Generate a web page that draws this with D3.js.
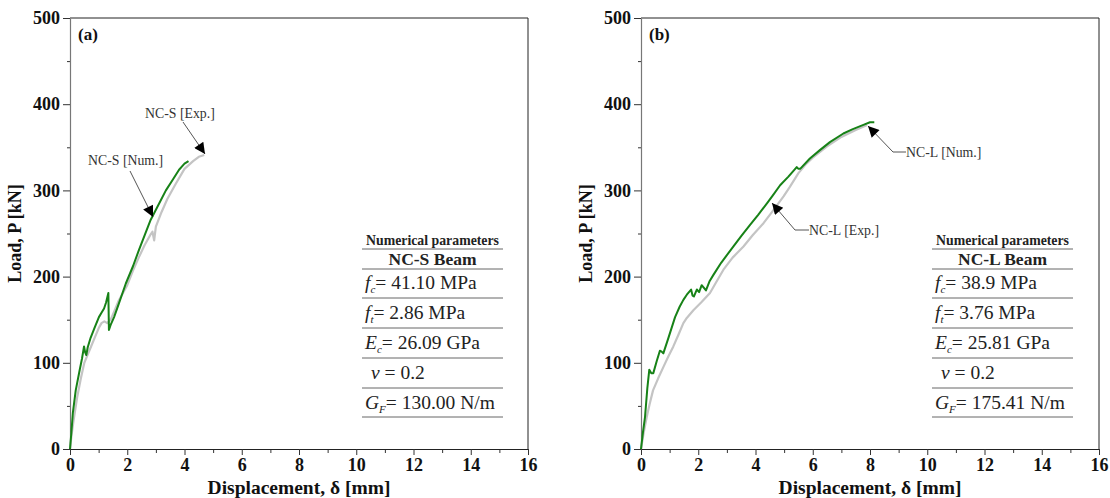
<!DOCTYPE html>
<html>
<head>
<meta charset="utf-8">
<script src="https://cdn.jsdelivr.net/npm/d3@7"></script>
<style>
  body { margin: 0; background: #fff; }
  svg { display: block; font-family: "Liberation Serif", "DejaVu Serif", serif; }
</style>
</head>
<body>
<div id="chart"></div>
<script>
// === DATA ===
// displacement [mm], load [kN]
const ncsNum = [[0,0],[0.05,20],[0.1,42],[0.2,68],[0.34,92],[0.42,105],[0.49,119],[0.53,112],[0.57,109],[0.62,118],[0.72,129],[0.85,140],[1.01,153],[1.1,158],[1.19,163],[1.26,170],[1.34,181],[1.36,138],[1.42,144],[1.54,153],[1.7,168],[1.95,192],[2.2,212],[2.41,231],[2.62,249],[2.82,266],[3.1,284],[3.35,300],[3.6,313],[3.81,324],[4.0,331],[4.14,334]];
const ncsExp = [[0,0],[0.05,15],[0.12,32],[0.25,60],[0.38,82],[0.5,100],[0.6,108],[0.7,116],[0.85,128],[1.0,140],[1.1,146],[1.2,148],[1.3,146],[1.42,150],[1.55,160],[1.7,172],[2.0,190],[2.2,207],[2.4,222],[2.6,236],[2.8,248],[2.88,252],[2.94,242],[3.0,258],[3.2,275],[3.4,290],[3.7,308],[4.0,325],[4.3,334],[4.5,339],[4.69,341]];
const nclNum = [[0,0],[0.07,20],[0.14,37],[0.22,70],[0.29,92],[0.36,88],[0.43,88],[0.55,102],[0.66,114],[0.72,113],[0.78,111],[0.95,128],[1.19,153],[1.35,165],[1.48,173],[1.6,179],[1.75,185],[1.8,178],[1.85,177],[1.95,185],[2.03,182],[2.12,190],[2.2,187],[2.27,184],[2.4,195],[2.53,202],[2.8,216],[3.0,225],[3.23,235],[3.5,247],[3.81,260],[4.1,272],[4.4,285],[4.6,294],[4.86,306],[5.15,316],[5.44,327],[5.5,325],[5.56,325],[5.9,337],[6.26,347],[6.6,356],[7.07,366],[7.4,371],[7.77,376],[8.0,379],[8.15,379]];
const nclExp = [[0,0],[0.1,20],[0.2,37],[0.3,52],[0.42,68],[0.6,82],[0.78,95],[0.95,107],[1.13,119],[1.3,132],[1.48,146],[1.6,152],[1.83,161],[2.1,170],[2.41,181],[2.6,192],[2.88,208],[3.2,222],[3.58,235],[3.9,248],[4.28,262],[4.6,276],[4.98,293],[5.2,304],[5.5,320],[5.75,330],[6.0,338],[6.5,351],[7.0,362],[7.5,370],[7.9,376]];

const xTicks = [0, 2, 4, 6, 8, 10, 12, 14, 16];
const yTicks = [0, 100, 200, 300, 400, 500];

const ncsParams = [["f", "c", "= 41.10 MPa"], ["f", "t", "= 2.86 MPa"], ["E", "c", "= 26.09 GPa"], ["", "", " v = 0.2"], ["G", "F", "= 130.00 N/m"]];
const nclParams = [["f", "c", "= 38.9 MPa"], ["f", "t", "= 3.76 MPa"], ["E", "c", "= 25.81 GPa"], ["", "", " v = 0.2"], ["G", "F", "= 175.41 N/m"]];

// === LAYOUT ===
const W = 1110, H = 498;
const svg = d3.select("#chart").append("svg").attr("width", W).attr("height", H);

svg.append("defs").append("marker")
  .attr("id", "arr")
  .attr("viewBox", "0 0 10 10")
  .attr("refX", 10).attr("refY", 5)
  .attr("markerWidth", 15).attr("markerHeight", 11)
  .attr("markerUnits", "userSpaceOnUse")
  .attr("orient", "auto")
  .append("path").attr("d", "M0,0L10,5L0,10Z").attr("fill", "#000");

const panels = [
  { x0: 70, tag: "(a)", num: ncsNum, exp: ncsExp, beam: "NC-S Beam", params: ncsParams, tableX: 362,
    notes: [
      { text: "NC-S [Exp.]", tx: 145, ty: 118, path: [[183, 122], [205, 154]] },
      { text: "NC-S [Num.]", tx: 88, ty: 165, path: [[130, 171], [153, 217]] }
    ] },
  { x0: 641, tag: "(b)", num: nclNum, exp: nclExp, beam: "NC-L Beam", params: nclParams, tableX: 932,
    notes: [
      { text: "NC-L [Num.]", tx: 906, ty: 157, path: [[906, 152], [893, 152], [868, 126]] },
      { text: "NC-L [Exp.]", tx: 809, ty: 235, path: [[809, 230], [795, 230], [772, 203]] }
    ] }
];

panels.forEach(p => {
  const x = d3.scaleLinear().domain([0, 16]).range([p.x0, p.x0 + 458]);
  const y = d3.scaleLinear().domain([0, 500]).range([449, 18]);
  const g = svg.append("g");

  // frame top / right
  g.append("path")
    .attr("d", `M${x(0)},${y(500)}H${x(16)}V${y(0)}`)
    .attr("fill", "none").attr("stroke", "#222").attr("stroke-width", 1);

  // minor ticks
  g.append("g").attr("transform", `translate(${x(0)},0)`)
    .call(d3.axisLeft(y).tickValues(d3.range(50, 500, 100)).tickSize(3).tickFormat(""))
    .call(a => a.select(".domain").remove())
    .selectAll("line").attr("stroke", "#333");
  g.append("g").attr("transform", `translate(0,${y(0)})`)
    .call(d3.axisBottom(x).tickValues(d3.range(1, 16, 2)).tickSize(4).tickFormat(""))
    .call(a => a.select(".domain").remove())
    .selectAll("line").attr("stroke", "#333");

  // major axes
  const ya = g.append("g").attr("transform", `translate(${x(0)},0)`)
    .call(d3.axisLeft(y).tickValues(yTicks).tickSize(7).tickSizeOuter(0).tickPadding(3));
  ya.select(".domain").attr("stroke", "#777").attr("stroke-width", 1.2);
  const xa = g.append("g").attr("transform", `translate(0,${y(0)})`)
    .call(d3.axisBottom(x).tickValues(xTicks).tickSize(6).tickSizeOuter(0).tickPadding(3));
  xa.select(".domain").attr("stroke", "#222");
  [ya, xa].forEach(a => {
    a.attr("font-family", null);
    a.selectAll("line").attr("stroke", "#333");
    a.selectAll("text").style("font-family", "'Liberation Serif', serif")
      .attr("font-size", 18).attr("font-weight", "bold").attr("fill", "#111");
  });

  // curves
  const line = d3.line().x(d => x(d[0])).y(d => y(d[1]));
  g.append("path").datum(p.exp).attr("d", line)
    .attr("fill", "none").attr("stroke", "#c4c4c4").attr("stroke-width", 2.2).attr("stroke-linejoin", "round");
  g.append("path").datum(p.num).attr("d", line)
    .attr("fill", "none").attr("stroke", "#178217").attr("stroke-width", 2).attr("stroke-linejoin", "round");

  // panel tag
  g.append("text").attr("x", x(0) + 8).attr("y", 40)
    .attr("font-size", 17).attr("font-weight", "bold").attr("fill", "#111").text(p.tag);

  // axis titles
  g.append("text")
    .attr("transform", `translate(${x(0) - 49},${y(250)}) rotate(-90)`)
    .attr("text-anchor", "middle").attr("font-size", 18).attr("font-weight", "bold").attr("fill", "#111")
    .text("Load, P [kN]");
  g.append("text").attr("x", x(8)).attr("y", 494)
    .attr("text-anchor", "middle").attr("font-size", 19.5).attr("font-weight", "bold").attr("fill", "#111")
    .text("Displacement, δ [mm]");

  // annotations
  p.notes.forEach(n => {
    g.append("path").attr("d", d3.line()(n.path))
      .attr("fill", "none").attr("stroke", "#555").attr("stroke-width", 1)
      .attr("marker-end", "url(#arr)");
    g.append("text").attr("x", n.tx).attr("y", n.ty)
      .attr("font-size", 13.8).attr("fill", "#333").text(n.text);
  });

  // parameters table
  const tx = p.tableX, tw = 141;
  const t = g.append("g").attr("fill", "#222");
  t.append("text").attr("x", tx + tw / 2).attr("y", 245).attr("text-anchor", "middle")
    .attr("font-size", 13.8).attr("font-weight", "bold").text("Numerical parameters");
  t.append("text").attr("x", tx + tw / 2).attr("y", 265).attr("text-anchor", "middle")
    .attr("font-size", 17.5).attr("font-weight", "bold").text(p.beam);
  const rules = [249, 269, 298, 328, 358, 388, 417];
  rules.forEach(ry => t.append("line")
    .attr("x1", tx).attr("x2", tx + tw).attr("y1", ry).attr("y2", ry)
    .attr("stroke", "#666").attr("stroke-width", 1));
  p.params.forEach((r, i) => {
    const txt = t.append("text").attr("x", tx + 3).attr("y", 289 + i * 30).attr("font-size", 19.5);
    if (r[0]) txt.append("tspan").attr("font-style", "italic").text(r[0]);
    if (r[1]) txt.append("tspan").attr("font-style", "italic").attr("font-size", 11)
      .attr("dy", 4).text(r[1]);
    if (r[1]) {
      txt.append("tspan").attr("dy", -4).text(r[2]);
    } else {
      txt.append("tspan").attr("dx", 6).attr("font-style", "italic").text("v");
      txt.append("tspan").text(" = 0.2");
    }
  });
});
</script>
</body>
</html>
